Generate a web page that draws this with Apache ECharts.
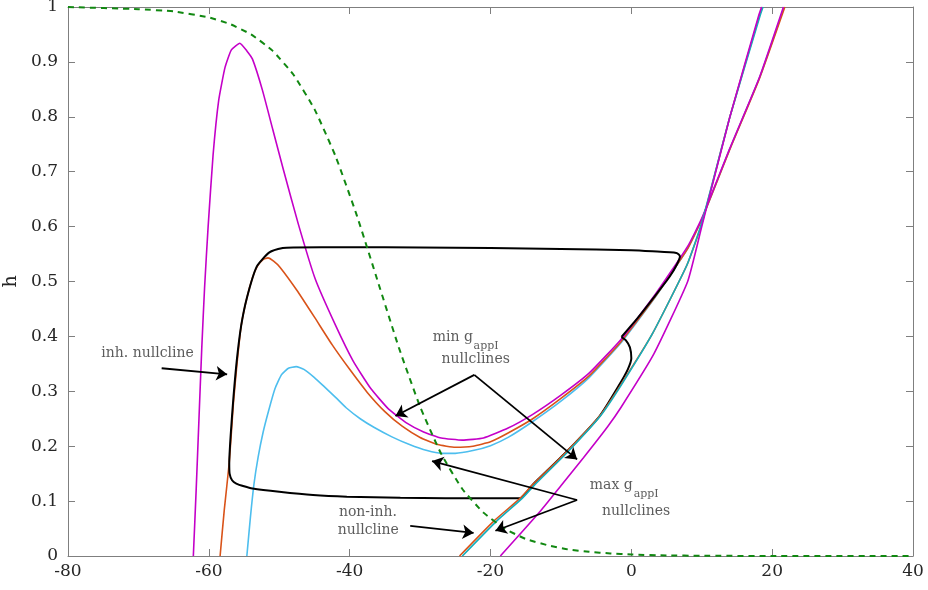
<!DOCTYPE html>
<html><head><meta charset="utf-8">
<script src="https://cdn.jsdelivr.net/npm/echarts@6/dist/echarts.min.js"></script>
<style>html,body{margin:0;padding:0;background:#fff}#c{width:928px;height:590px}</style>
</head><body><div id="c"></div>
<script>
// ---- axis ticks ----
const xTicks = [-80, -60, -40, -20, 0, 20, 40];
const yTicks = [0, 0.1, 0.2, 0.3, 0.4, 0.5, 0.6, 0.7, 0.8, 0.9, 1];

// ---- curves (x = V, y = h) ----
const greenInf = [[-80,1.0],[-70,0.996],[-65,0.992],[-60,0.981],[-57,0.969],[-54,0.95],[-51,0.921],[-48,0.877],[-45,0.814],[-42,0.728],[-39,0.621],[-36,0.5],[-33,0.379],[-30,0.272],[-27,0.186],[-24,0.122],[-21,0.079],[-18,0.05],[-15,0.031],[-12,0.02],[-9,0.012],[-6,0.0076],[-3,0.0047],[0,0.0027],[5,0.001],[10,0.0005],[20,0.0],[40,0.0]];

const magentaInh = [[-62.2,0],[-61.8,0.12],[-61.4,0.25],[-61.0,0.38],[-60.6,0.49],[-60.1,0.6],[-59.4,0.73],[-58.6,0.83],[-57.7,0.89],[-56.8,0.922],[-55.6,0.934],[-54.6,0.92],[-53.8,0.905],[-52.4,0.849],[-50.9,0.776],[-49.4,0.703],[-47.3,0.605],[-44.9,0.505],[-42,0.42],[-39.5,0.355],[-37,0.305],[-34.5,0.268],[-32,0.243],[-29.5,0.226],[-27,0.215],[-24,0.211],[-21,0.215],[-17.5,0.233],[-14,0.258],[-10,0.293],[-6,0.333],[-1.5,0.394],[3.2,0.473],[8,0.564],[10,0.615],[14,0.743],[18.2,0.872],[21.6,1.0]];
const orangeInh = [[-58.4,0],[-57.8,0.085],[-57.1,0.17],[-56.5,0.28],[-56.0,0.35],[-55.4,0.42],[-54.6,0.47],[-53.8,0.507],[-53.1,0.528],[-52.3,0.54],[-51.6,0.543],[-50.8,0.537],[-49.9,0.526],[-47.5,0.484],[-45,0.435],[-42.5,0.385],[-40,0.34],[-37.5,0.298],[-35,0.263],[-32.5,0.236],[-30,0.216],[-27.5,0.203],[-25,0.198],[-22.5,0.2],[-20,0.208],[-17.5,0.224],[-14,0.25],[-10,0.287],[-6,0.328],[-1.5,0.39],[3.2,0.469],[8,0.56],[10,0.613],[14,0.741],[18.2,0.87],[21.8,1.0]];
const blueInh = [[-54.6,0],[-54.1,0.07],[-53.6,0.13],[-53.0,0.18],[-52.3,0.225],[-51.5,0.265],[-50.6,0.305],[-49.7,0.33],[-48.7,0.342],[-47.6,0.345],[-46.5,0.34],[-45,0.325],[-43.5,0.307],[-42,0.289],[-40.5,0.27],[-38.5,0.25],[-36.5,0.234],[-34,0.217],[-31.5,0.203],[-29,0.192],[-27,0.187],[-25,0.187],[-22.5,0.192],[-20,0.201],[-17.5,0.216],[-14,0.245],[-10,0.282],[-6,0.325],[-1.5,0.388],[3.2,0.468],[8,0.56],[10,0.613],[14,0.742],[18.2,0.871],[21.7,1.0]];

const orangeNon = [[-24.4,0],[-19.5,0.064],[-15.8,0.105],[-14,0.13],[-9.2,0.19],[-4.5,0.255],[-1.6,0.31],[3.0,0.405],[7.9,0.53],[10,0.605],[14,0.80],[18.2,0.985],[18.6,1.0]];
const tealNon = [[-24.0,0],[-19.1,0.064],[-15.5,0.105],[-13.7,0.13],[-9.0,0.19],[-4.4,0.255],[-1.5,0.31],[3.0,0.405],[7.9,0.53],[10,0.607],[14,0.80],[18.3,0.985],[18.7,1.0]];
const magentaNon = [[-18.6,0],[-15.8,0.04],[-12.9,0.082],[-10,0.128],[-6.8,0.179],[-3.4,0.235],[-1.5,0.27],[3.2,0.368],[8,0.50],[10,0.6],[14,0.80],[18.1,0.985],[18.5,1.0]];

const trajectory = [[-1.4,0.399],[1,0.435],[3.2,0.471],[5.5,0.51],[6.5,0.532],[6.9,0.546],[6.4,0.552],[3,0.555],[0,0.557],[-10,0.559],[-20,0.561],[-30,0.562],[-40,0.5625],[-48,0.562],[-49.5,0.561],[-51.4,0.553],[-53.2,0.527],[-54.6,0.47],[-55.4,0.42],[-56.0,0.36],[-56.5,0.29],[-56.9,0.22],[-57.1,0.17],[-57.05,0.15],[-56.7,0.138],[-56.1,0.132],[-55,0.127],[-53.8,0.123],[-50,0.117],[-45.2,0.111],[-40.4,0.108],[-32.8,0.106],[-20,0.105],[-15.8,0.105],[-14,0.13],[-9.2,0.19],[-4.5,0.255],[-1.8,0.31],[-0.5,0.34],[0,0.36],[-0.2,0.38],[-0.8,0.393],[-1.4,0.399]];

// ---- annotations (data coordinates) ----
const arrows = [
  [[-66.7,0.342],[-57.4,0.331]],
  [[-22.3,0.330],[-33.5,0.255]],
  [[-22.3,0.330],[-7.7,0.176]],
  [[-7.7,0.102],[-28.3,0.173]],
  [[-7.7,0.102],[-19.3,0.046]],
  [[-31.4,0.055],[-22.4,0.042]]
];
const labels = [
  {t:'inh. nullcline', x:-68.7, y:0.369, a:'center', s:14},
  {t:'min g', x:-22.5, y:0.399, a:'right', s:14},
  {t:'appI', x:-22.4, y:0.383, a:'left', s:11},
  {t:'nullclines', x:-22.1, y:0.358, a:'center', s:14},
  {t:'max g', x:0.2, y:0.128, a:'right', s:14},
  {t:'appI', x:0.33, y:0.113, a:'left', s:11},
  {t:'nullclines', x:0.68, y:0.082, a:'center', s:14},
  {t:'non-inh.', x:-37.4, y:0.079, a:'center', s:14},
  {t:'nullcline', x:-37.35, y:0.046, a:'center', s:14}
];

const FONT = 'DejaVu Serif';
const AX = '#7f7f7f';

function curve(name, data, color, width, dash) {
  return {
    name, type: 'line', data, showSymbol: false, symbol: 'none',
    smooth: 0.15, clip: true, silent: true,
    lineStyle: {color, width, type: dash || 'solid'}
  };
}

const chart = echarts.init(document.getElementById('c'));
const axisCommon = {
  type: 'value',
  axisLine: {show: true, onZero: false, lineStyle: {color: AX, width: 1}},
  axisTick: {show: true, inside: true, length: 7, lineStyle: {color: AX}},
  splitLine: {show: false}
};
chart.setOption({
  animation: false,
  backgroundColor: '#fff',
  grid: {left: 68, right: 15, top: 7, bottom: 34, containLabel: false, outerBoundsMode: 'none'},
  xAxis: [
    Object.assign({}, axisCommon, {min: xTicks[0], max: xTicks[xTicks.length-1], interval: 20, position: 'bottom',
      axisLabel: {color: '#262626', fontFamily: FONT, fontSize: 17, margin: 7}}),
    Object.assign({}, axisCommon, {min: xTicks[0], max: xTicks[xTicks.length-1], interval: 20, position: 'top',
      axisLabel: {show: false}})
  ],
  yAxis: [
    Object.assign({}, axisCommon, {min: yTicks[0], max: yTicks[yTicks.length-1], interval: 0.1, position: 'left',
      name: 'h', nameLocation: 'middle', nameGap: 43, nameRotate: 90,
      nameTextStyle: {color: '#262626', fontFamily: FONT, fontSize: 19},
      axisLabel: {color: '#262626', fontFamily: FONT, fontSize: 17, margin: 10,
        formatter: v => String(+(+v).toFixed(1))}}),
    Object.assign({}, axisCommon, {min: yTicks[0], max: yTicks[yTicks.length-1], interval: 0.1, position: 'right',
      axisLabel: {show: false}})
  ],
  series: [
    curve('blueInh', blueInh, '#4DBEEE', 1.6),
    curve('orangeInh', orangeInh, '#D95319', 1.6),
    curve('magentaInh', magentaInh, '#C400C8', 1.6),
    Object.assign(curve('trajectory', trajectory, '#000000', 2), {smooth: 0.2}),
    curve('orangeNon', orangeNon, '#D95319', 1.6),
    curve('tealNon', tealNon, '#14AEBB', 1.6),
    curve('magentaNon', magentaNon, '#C400C8', 1.6),
    curve('greenInf', greenInf, '#118811', 2, [6, 5]),
    {
      name: 'annot', type: 'scatter', symbolSize: 0, silent: true, z: 10,
      data: labels.map(l => ({
        value: [l.x, l.y],
        label: {show: true, position: 'inside', formatter: l.t, align: l.a, verticalAlign: 'middle',
          fontFamily: FONT, fontSize: l.s, color: '#333333'}
      })),
      markLine: {
        silent: true, animation: false,
        symbol: ['none', 'arrow'], symbolSize: 11,
        label: {show: false},
        lineStyle: {color: '#000', width: 1.8, type: 'solid'},
        data: arrows.map(a => [{coord: a[0]}, {coord: a[1]}])
      }
    }
  ]
});
</script>
</body></html>
